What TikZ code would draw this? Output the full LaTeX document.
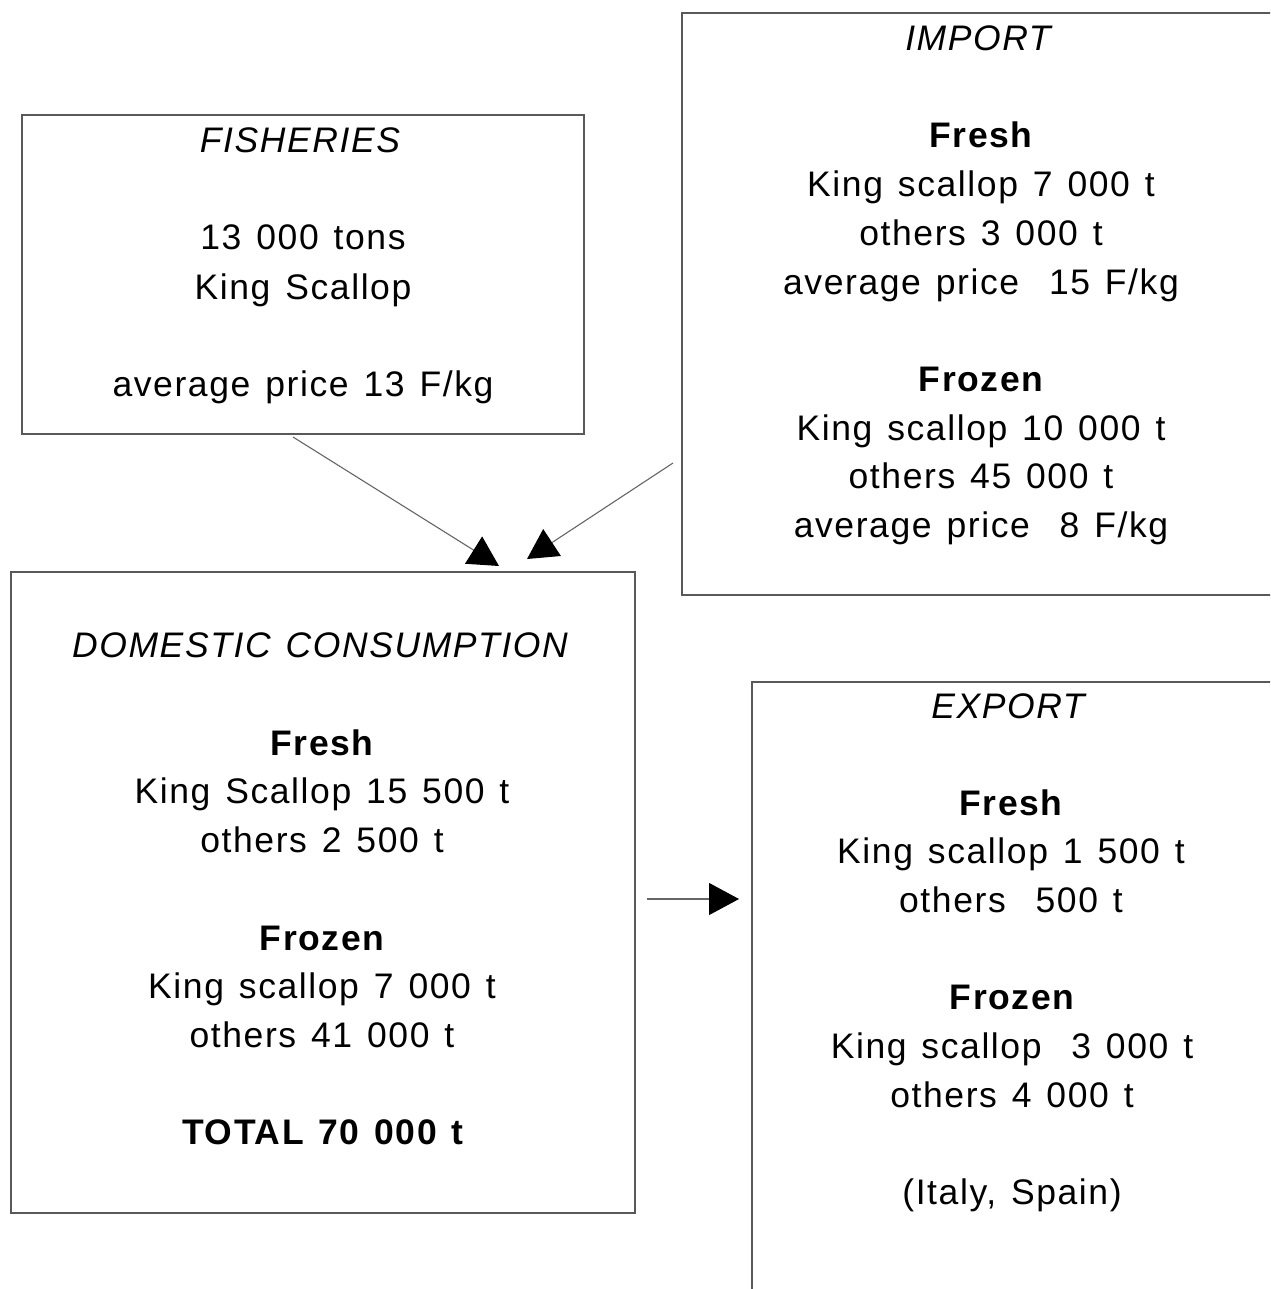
\documentclass[tikz,border=0pt]{standalone}
\usepackage{fontspec}
\setmainfont{Liberation Sans}[LetterSpace=4.5,WordSpace=1.3]
\usetikzlibrary{arrows.meta}
\tikzset{
  box/.style={draw=black!65, line width=1.4pt, rectangle, inner sep=0pt},
  txt/.style={anchor=base, inner sep=0pt, font=\fontsize{35.5}{40}\selectfont},
  ttl/.style={txt, font=\fontsize{35.5}{40}\selectfont\itshape},
  hd/.style={txt, font=\fontsize{35.5}{40}\selectfont\bfseries},
  arr/.style={draw=black!60, line width=1.1pt, -{Triangle[length=30pt,width=32pt,color=black]}}
}
\begin{document}
\begin{tikzpicture}[x=1pt,y=-1pt]
\clip (0,0) rectangle (1270,1289);
\fill[white] (0,0) rectangle (1270,1289);
% boxes
\node[box, minimum width=562pt, minimum height=319pt] (fish) at (303,274.5) {};
\node[box, minimum width=608pt, minimum height=582pt] (imp) at (986,304) {};
\node[box, minimum width=624pt, minimum height=641pt] (dom) at (323,892.5) {};
\node[box, minimum width=538pt, minimum height=628pt] (exp) at (1021,996) {};
% fisheries text
\node[ttl] (fT) at (300,153) {FISHERIES};
\node[txt] (f1) at (303,250) {13 000 tons};
\node[txt] (f2) at (303,299) {King Scallop};
\node[txt] (f3) at (303,396) {average price 13 F/kg};
% import text
\node[ttl] (iT) at (978,51) {IMPORT};
\node[hd]  (i1) at (981,148) {Fresh};
\node[txt] (i2) at (981,197) {King scallop 7 000 t};
\node[txt] (i3) at (981,245) {others 3 000 t};
\node[txt] (i4) at (981,294) {average price\ \ 15 F/kg};
\node[hd]  (i5) at (981,391) {Frozen};
\node[txt] (i6) at (981,440) {King scallop 10 000 t};
\node[txt] (i7) at (981,488) {others 45 000 t};
\node[txt] (i8) at (981,537) {average price\ \ 8 F/kg};
% domestic text
\node[ttl] (dT) at (320,657) {DOMESTIC CONSUMPTION};
\node[hd]  (d1) at (322,755) {Fresh};
\node[txt] (d2) at (322,803) {King Scallop 15 500 t};
\node[txt] (d3) at (322,852) {others 2 500 t};
\node[hd]  (d4) at (322,950) {Frozen};
\node[txt] (d5) at (322,998) {King scallop 7 000 t};
\node[txt] (d6) at (322,1047) {others 41 000 t};
\node[hd]  (d7) at (323,1144) {TOTAL 70 000 t};
% export text
\node[ttl] (eT) at (1008,718) {EXPORT};
\node[hd]  (e1) at (1011,815) {Fresh};
\node[txt] (e2) at (1011,863) {King scallop 1 500 t};
\node[txt] (e3) at (1011,912) {others\ \ 500 t};
\node[hd]  (e4) at (1012,1009) {Frozen};
\node[txt] (e5) at (1012,1058) {King scallop\ \ 3 000 t};
\node[txt] (e6) at (1012,1107) {others 4 000 t};
\node[txt] (e7) at (1012,1204) {(Italy, Spain)};
% connector ends
\coordinate (fs) at (293,437);
\coordinate (ft) at (499,566);
\coordinate (is) at (673,463);
\coordinate (it) at (527,559);
\coordinate (ds) at (647,899);
\coordinate (et) at (739,899);
\draw[arr] (fs) -- (ft);
\draw[arr] (is) -- (it);
\draw[arr] (ds) -- (et);
\end{tikzpicture}
\end{document}
